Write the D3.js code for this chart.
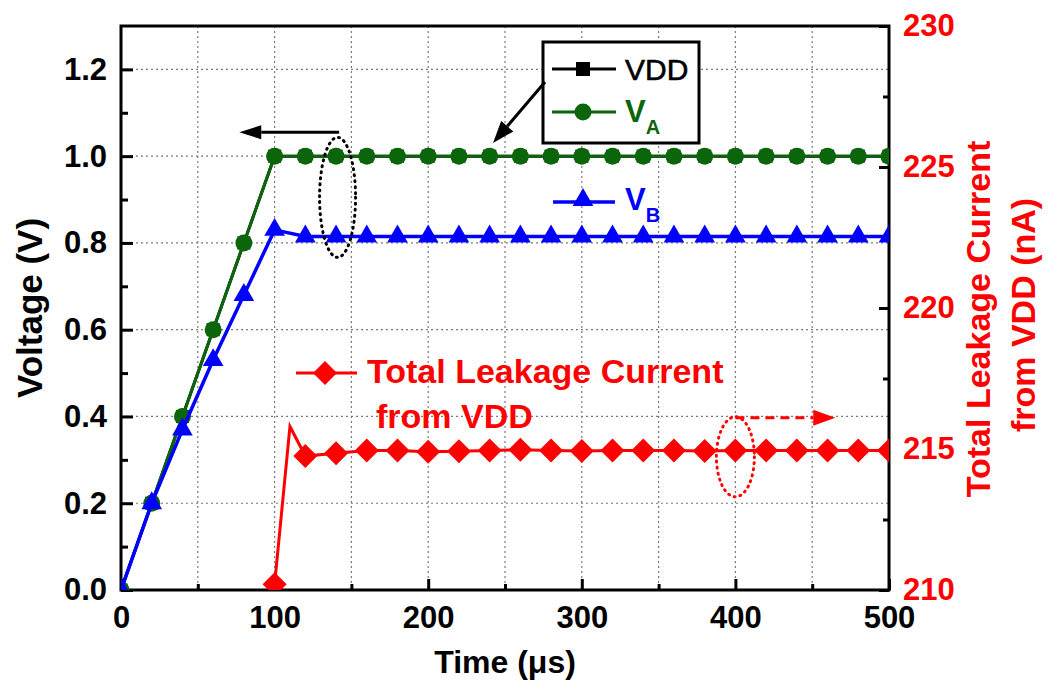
<!doctype html>
<html lang='en'>
  <head>
    <meta charset='utf-8' />
    <style>
      * { padding: 0; margin: 0; }
      body { background: #fff; font-family: 'Liberation Sans', Arial, sans-serif; }
      svg text { font-family: 'Liberation Sans', Arial, sans-serif; }
    </style>
    <title>Voltage and leakage current</title>
  </head>
  <body>
    <div id='container'></div>
    <script src='https://d3js.org/d3.v7.min.js'></script>
    <script type='text/javascript'>

      // sample times (us) for the voltage curves
      var times = [0, 20, 40, 60, 80, 100, 120, 140, 160, 180, 200, 220, 240, 260, 280,
                   300, 320, 340, 360, 380, 400, 420, 440, 460, 480, 500];
      var vdd = [0, 0.2, 0.4, 0.6, 0.8, 1.0, 1.0, 1.0, 1.0, 1.0, 1.0, 1.0, 1.0, 1.0, 1.0,
                 1.0, 1.0, 1.0, 1.0, 1.0, 1.0, 1.0, 1.0, 1.0, 1.0, 1.0];
      var va = [0, 0.2, 0.4, 0.6, 0.8, 1.0, 1.0, 1.0, 1.0, 1.0, 1.0, 1.0, 1.0, 1.0, 1.0,
                1.0, 1.0, 1.0, 1.0, 1.0, 1.0, 1.0, 1.0, 1.0, 1.0, 1.0];
      var vb = [0, 0.2, 0.37, 0.53, 0.68, 0.83, 0.815, 0.815, 0.815, 0.815, 0.815, 0.815, 0.815, 0.815, 0.815,
                0.815, 0.815, 0.815, 0.815, 0.815, 0.815, 0.815, 0.815, 0.815, 0.815, 0.815];

      // leakage current (nA), right axis
      var leakTimes = [100, 110, 120, 140, 160, 180, 200, 220, 240, 260, 280, 300, 320,
                       340, 360, 380, 400, 420, 440, 460, 480, 500];
      var leak = [210.2, 215.8, 214.75, 214.85, 214.95, 214.95, 214.9, 214.92, 214.95, 214.97, 214.95, 214.93, 214.95,
                  214.95, 214.95, 214.93, 214.95, 214.95, 214.95, 214.95, 214.95, 214.95];

      var xTicks = [0, 100, 200, 300, 400, 500];
      var yTicks = [0, 0.2, 0.4, 0.6, 0.8, 1.0, 1.2];
      var y2Ticks = [210, 215, 220, 225, 230];

      const svg_width = 1050, svg_height = 683;
      const mLeft = 121, mRight = 889, mTop = 26, mBottom = 590;
      const green = '#0b650b', blue = '#0000ff', red = '#ff0000';

      var x = d3.scaleLinear().domain([0, 500]).range([mLeft, mRight]);
      var y = d3.scaleLinear().domain([0, 1.3]).range([mBottom, mTop]);
      var y2 = d3.scaleLinear().domain([210, 230]).range([mBottom, mTop]);

      var svg = d3.select('#container').append('svg')
          .attr('width', svg_width)
          .attr('height', svg_height)
          .style('display', 'block');

      svg.append('defs').append('clipPath').attr('id', 'plot')
        .append('rect').attr('x', mLeft).attr('y', mTop)
        .attr('width', mRight - mLeft).attr('height', mBottom - mTop);

      // dotted grid
      var grid = svg.append('g').attr('stroke', '#7a7a7a').attr('stroke-width', 1.2)
          .attr('stroke-dasharray', '2,3');
      grid.selectAll('line.v').data(d3.range(50, 500, 50)).enter().append('line')
        .attr('x1', function(d) { return x(d); }).attr('x2', function(d) { return x(d); })
        .attr('y1', mTop).attr('y2', mBottom);
      grid.selectAll('line.h').data(yTicks.slice(1)).enter().append('line')
        .attr('y1', function(d) { return y(d); }).attr('y2', function(d) { return y(d); })
        .attr('x1', mLeft).attr('x2', mRight);

      // axes with inward ticks
      var fmt1 = d3.format('.1f');
      svg.append('g').attr('transform', 'translate(0,' + mBottom + ')')
        .call(d3.axisBottom(x).tickValues(xTicks).tickSize(-11).tickPadding(16));
      svg.append('g').attr('transform', 'translate(0,' + mBottom + ')')
        .call(d3.axisBottom(x).tickValues(d3.range(50, 500, 100)).tickSize(-6).tickFormat(''));
      svg.append('g').attr('transform', 'translate(' + mLeft + ',0)')
        .call(d3.axisLeft(y).tickValues(yTicks).tickFormat(fmt1).tickSize(-12).tickPadding(14));
      svg.append('g').attr('transform', 'translate(' + mLeft + ',0)')
        .call(d3.axisLeft(y).tickValues(d3.range(0.1, 1.3, 0.2)).tickSize(-7).tickFormat(''));
      var y2Axis = svg.append('g').attr('transform', 'translate(' + mRight + ',0)')
        .call(d3.axisRight(y2).tickValues(y2Ticks).tickSize(-10).tickPadding(14));
      svg.append('g').attr('transform', 'translate(' + mRight + ',0)')
        .call(d3.axisRight(y2).tickValues([212.5, 217.5, 222.5, 227.5]).tickSize(-6).tickFormat(''));

      svg.selectAll('.domain').remove();
      svg.selectAll('.tick line').attr('stroke', '#000').attr('stroke-width', 3);
      svg.selectAll('.tick text').attr('font-size', 31).attr('font-weight', 'bold')
        .attr('font-family', "'Liberation Sans', Arial, sans-serif").attr('fill', '#000');
      y2Axis.selectAll('.tick text').attr('fill', red);

      // frame
      svg.append('rect').attr('x', mLeft).attr('y', mTop)
        .attr('width', mRight - mLeft).attr('height', mBottom - mTop)
        .attr('fill', 'none').attr('stroke', '#000').attr('stroke-width', 3);

      // series
      var plot = svg.append('g').attr('clip-path', 'url(#plot)');
      var line = d3.line().x(function(d) { return x(d[0]); }).y(function(d) { return y(d[1]); });
      var line2 = d3.line().x(function(d) { return x(d[0]); }).y(function(d) { return y2(d[1]); });

      var vddPts = d3.zip(times, vdd), vaPts = d3.zip(times, va), vbPts = d3.zip(times, vb);
      var leakPts = d3.zip(leakTimes, leak);

      plot.append('path').attr('d', line(vddPts)).attr('fill', 'none').attr('stroke', '#000').attr('stroke-width', 3);
      plot.selectAll('rect.vdd').data(vddPts).enter().append('rect')
        .attr('x', function(d) { return x(d[0]) - 6.5; }).attr('y', function(d) { return y(d[1]) - 6.5; })
        .attr('width', 13).attr('height', 13).attr('fill', '#000');

      plot.append('path').attr('d', line(vaPts)).attr('fill', 'none').attr('stroke', green).attr('stroke-width', 3);
      plot.selectAll('circle.va').data(vaPts).enter().append('circle')
        .attr('cx', function(d) { return x(d[0]); }).attr('cy', function(d) { return y(d[1]); })
        .attr('r', 8.5).attr('fill', green);

      var tri = d3.symbol().type(d3.symbolTriangle).size(185);
      plot.append('path').attr('d', line(vbPts)).attr('fill', 'none').attr('stroke', blue).attr('stroke-width', 3.5);
      plot.selectAll('path.vb').data(vbPts).enter().append('path')
        .attr('d', tri)
        .attr('transform', function(d) { return 'translate(' + x(d[0]) + ',' + y(d[1]) + ')'; })
        .attr('fill', blue);

      var diamond = function(cx, cy, r) {
        return 'M' + cx + ',' + (cy - r) + 'L' + (cx + r) + ',' + cy + 'L' + cx + ',' + (cy + r) + 'L' + (cx - r) + ',' + cy + 'Z';
      };
      plot.append('path').attr('d', line2(leakPts)).attr('fill', 'none').attr('stroke', red).attr('stroke-width', 3);
      plot.selectAll('path.leak').data(leakPts.filter(function(d) { return d[0] % 20 === 0; })).enter().append('path')
        .attr('d', function(d) { return diamond(x(d[0]), y2(d[1]), 12); })
        .attr('fill', red);

      // axis titles
      svg.append('text').attr('x', x(250)).attr('y', 673).attr('text-anchor', 'middle')
        .attr('font-size', 32).attr('font-weight', 'bold').text('Time (\u03bcs)');
      svg.append('text').attr('transform', 'translate(42,' + y(0.65) + ') rotate(-90)')
        .attr('text-anchor', 'middle').attr('font-size', 35).attr('font-weight', 'bold').text('Voltage (V)');
      var rt = svg.append('g').attr('fill', red).attr('font-size', 34).attr('font-weight', 'bold')
        .attr('text-anchor', 'middle');
      rt.append('text').attr('transform', 'translate(990,319) rotate(-90)').text('Total Leakage Current');
      rt.append('text').attr('transform', 'translate(1035,315) rotate(-90)').text('from VDD (nA)');

      // legend box
      svg.append('rect').attr('x', 543).attr('y', 42).attr('width', 156).attr('height', 101)
        .attr('fill', '#fff').attr('stroke', '#000').attr('stroke-width', 3);
      svg.append('line').attr('x1', 552).attr('x2', 616).attr('y1', 69).attr('y2', 69)
        .attr('stroke', '#000').attr('stroke-width', 3);
      svg.append('rect').attr('x', 576).attr('y', 62).attr('width', 14).attr('height', 14).attr('fill', '#000');
      svg.append('text').attr('x', 625).attr('y', 80).attr('font-size', 30).attr('stroke', '#000')
        .attr('stroke-width', 0.6).text('VDD');
      svg.append('line').attr('x1', 552).attr('x2', 616).attr('y1', 112).attr('y2', 112)
        .attr('stroke', green).attr('stroke-width', 3);
      svg.append('circle').attr('cx', 583).attr('cy', 112).attr('r', 8.5).attr('fill', green);
      var ta = svg.append('text').attr('x', 625).attr('y', 122).attr('font-size', 31).attr('fill', green);
      ta.append('tspan').attr('font-weight', 'bold').text('V');
      ta.append('tspan').attr('font-size', 20).attr('font-weight', 'bold').attr('dy', 12).text('A');

      // V_B label
      svg.append('line').attr('x1', 553).attr('x2', 615).attr('y1', 202).attr('y2', 202)
        .attr('stroke', blue).attr('stroke-width', 3.5);
      svg.append('path').attr('d', tri).attr('transform', 'translate(583,200)').attr('fill', blue);
      var tb = svg.append('text').attr('x', 625).attr('y', 210).attr('font-size', 31).attr('fill', blue);
      tb.append('tspan').attr('font-weight', 'bold').text('V');
      tb.append('tspan').attr('font-size', 20).attr('font-weight', 'bold').attr('dy', 12).text('B');

      // leakage label
      svg.append('line').attr('x1', 296).attr('x2', 357).attr('y1', 373).attr('y2', 373)
        .attr('stroke', red).attr('stroke-width', 3);
      svg.append('path').attr('d', diamond(325, 373, 12)).attr('fill', red);
      var tl = svg.append('g').attr('fill', red).attr('font-size', 34).attr('font-weight', 'bold');
      tl.append('text').attr('x', 367).attr('y', 383).text('Total Leakage Current');
      tl.append('text').attr('x', 376).attr('y', 428).text('from VDD');

      // annotations: arrows and ellipses
      var arrowHead = function(x0, y0, x1, y1, len, half, color) {
        var a = Math.atan2(y1 - y0, x1 - x0);
        var bx = x1 - len * Math.cos(a), by = y1 - len * Math.sin(a);
        var px = -Math.sin(a) * half, py = Math.cos(a) * half;
        svg.append('path').attr('d', 'M' + x1 + ',' + y1 + 'L' + (bx + px) + ',' + (by + py) +
            'L' + (bx - px) + ',' + (by - py) + 'Z').attr('fill', color);
        return [bx, by];
      };
      var ay = y(1.055);
      var b1 = arrowHead(x(142), ay, x(77), ay, 22, 7, '#000');
      svg.append('line').attr('x1', x(142)).attr('x2', b1[0]).attr('y1', ay).attr('y2', ay)
        .attr('stroke', '#000').attr('stroke-width', 3);
      var b2 = arrowHead(545, 82, 493, 143, 22, 8, '#000');
      svg.append('line').attr('x1', 545).attr('y1', 82).attr('x2', b2[0]).attr('y2', b2[1])
        .attr('stroke', '#000').attr('stroke-width', 3);
      svg.append('ellipse').attr('cx', x(141)).attr('cy', y(0.905)).attr('rx', 18).attr('ry', 60)
        .attr('fill', 'none').attr('stroke', '#000').attr('stroke-width', 3).attr('stroke-dasharray', '1,5')
        .attr('stroke-linecap', 'round');

      var ry = y(0.397);
      var b3 = arrowHead(x(400), ry, x(465), ry, 22, 8, red);
      svg.append('line').attr('x1', x(400)).attr('x2', b3[0]).attr('y1', ry).attr('y2', ry)
        .attr('stroke', red).attr('stroke-width', 3).attr('stroke-dasharray', '9,6');
      svg.append('ellipse').attr('cx', x(400)).attr('cy', y(0.307)).attr('rx', 19).attr('ry', 40)
        .attr('fill', 'none').attr('stroke', red).attr('stroke-width', 3).attr('stroke-dasharray', '1,5')
        .attr('stroke-linecap', 'round');
    </script>
  </body>
</html>
